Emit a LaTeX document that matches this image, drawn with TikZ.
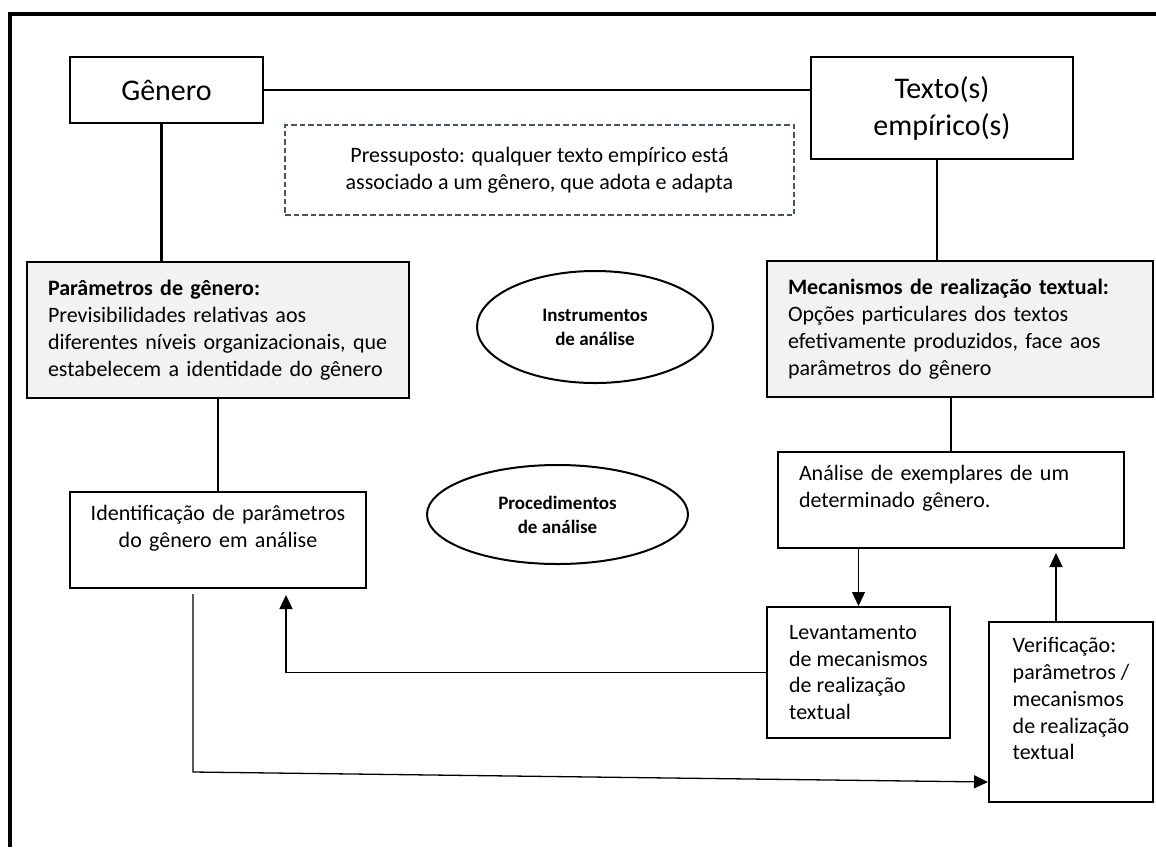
\documentclass[tikz,border=0pt]{standalone}
\usepackage{fontspec}
\setmainfont{Carlito}
\usetikzlibrary{arrows.meta, positioning, calc, shapes.geometric}
\definecolor{panelgray}{HTML}{F2F2F2}
\definecolor{slate}{HTML}{44546A}

\begin{document}
\begin{tikzpicture}[
  x=1pt, y=-1pt,
  >={Triangle[length=14pt, width=13pt]},
  every node/.style={text=black, font=\fontsize{22}{26.8}\selectfont},
  plainbox/.style={draw, line width=2pt, inner xsep=21pt, inner ysep=0pt},
  graybox/.style={plainbox, fill=panelgray},
  notebox/.style={draw=slate, line width=1.8pt, dash pattern=on 5.5pt off 3pt, align=center, inner sep=0pt},
  oval/.style={draw, ellipse, line width=2pt, inner sep=0pt, align=center, font=\fontsize{19}{24}\selectfont\bfseries},
  link/.style={line width=2.2pt},
  flow/.style={line width=1.3pt, ->},
]

% Background
\useasboundingbox (0,0) rectangle (1156,847);
\fill[white] (0,0) rectangle (1156,847);

% Frame (top and left edges)
\draw[line width=3.2pt] (10,847) -- (10,14) -- (1156,14);

% ============ Top row ============
\node[plainbox, minimum width=193, minimum height=66, font=\fontsize{30}{37}\selectfont] (genero) at (166.5,90) {Gênero};
\node[plainbox, align=center, minimum width=262, minimum height=102, font=\fontsize{30}{37}\selectfont] (texto) at (942,108) {Texto(s)\\empírico(s)};
\node[notebox, minimum width=509, minimum height=90] (pressup) at (539.5,170)
  {Pressuposto: qualquer texto empírico está\\associado a um gênero, que adota e adapta};

\draw[line width=1.5pt] (genero.east) -- (genero.east -| texto.west);

% ============ Left column ============
\node[graybox, text width=340, align=left, minimum width=382, minimum height=136] (param) at (218,330)
  {\textbf{Parâmetros de gênero:}\\Previsibilidades relativas aos\\diferentes níveis organizacionais, que\\estabelecem a identidade do gênero};
\node[plainbox, inner xsep=10pt, text width=276, align=center, minimum width=296, minimum height=96] (ident) at (218,540)
  {Identificação de parâmetros\\do gênero em análise\\\mbox{}};

% ============ Right column ============
\node[graybox, text width=344, align=left, minimum width=386, minimum height=136] (mecan) at (960,329)
  {\textbf{Mecanismos de realização textual:}\\Opções particulares dos textos\\efetivamente produzidos, face aos\\parâmetros do gênero};
\node[plainbox, text width=304, align=left, minimum width=346, minimum height=96] (analise) at (951,500)
  {Análise de exemplares de um\\determinado gênero.\\\mbox{}};
\node[plainbox, align=left, minimum width=183, minimum height=131] (lev) at (858.5,672.5)
  {Levantamento\\de mecanismos\\de realização\\textual};
\node[plainbox, align=left, minimum width=164, minimum height=180] (verif) at (1071,712)
  {Verificação:\\parâmetros /\\mecanismos\\de realização\\textual\\\mbox{}};

% ============ Middle: ovals ============
\node[oval, minimum width=236, minimum height=112] (instr) at (595,327) {Instrumentos\\de análise};
\node[oval, minimum width=261, minimum height=99] (proced) at (557.5,514.5) {Procedimentos\\de análise};

% ============ Links ============
\draw[link] ([xshift=-5pt]genero.south) -- ([xshift=-5pt]genero.south |- param.north);
\draw[link] ([xshift=-5pt]texto.south) -- ([xshift=-5pt]texto.south |- mecan.north);
\draw[link] (param.south) -- (ident.north);
\draw[link] (analise.north |- mecan.south) -- (analise.north);

% ============ Flow arrows ============
\draw[flow] (lev.north |- analise.south) -- (lev.north);
\draw[flow, shorten >=4pt] ([xshift=-15pt]verif.north) -- ([xshift=-15pt]verif.north |- analise.south);
\draw[flow, shorten >=6pt] (lev.west) -| ([xshift=68pt]ident.south);

\coordinate (turn) at (193,772);
\draw[flow] ([xshift=-25pt, yshift=-5pt]ident.south) -- (turn) -- ([yshift=-70pt]verif.west);

\end{tikzpicture}
\end{document}
